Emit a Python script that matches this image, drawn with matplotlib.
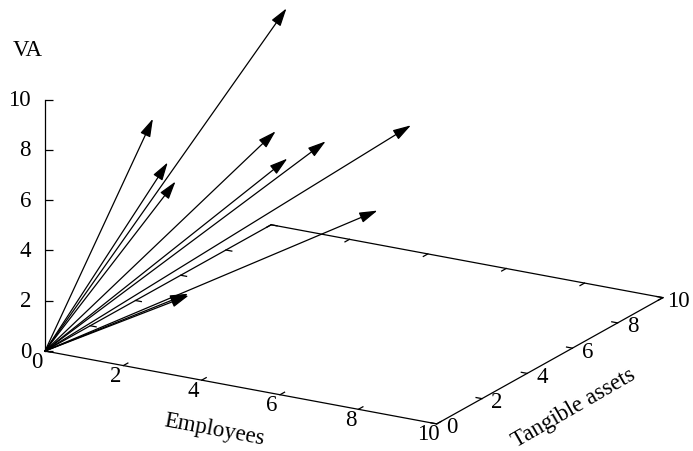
import numpy as np
import matplotlib
matplotlib.use('Agg')
import matplotlib.pyplot as plt
from mpl_toolkits.mplot3d import proj3d

plt.rcParams['font.family'] = ['Liberation Serif', 'DejaVu Serif']

# arrow end points (employees, tangible assets, VA), all arrows start at the origin
emp = [1.6, 2.7, 1.4, 1.6, 3.0, 3.3, 3.7, 5.3, 5.6, 2.5, 2.4]
assets = [2.0, 6.0, 3.0, 3.0, 5.0, 5.0, 6.0, 7.0, 5.0, 2.0, 2.2]
va = [8.7, 11.4, 6.4, 5.7, 7.1, 6.1, 6.4, 7.0, 4.7, 2.0, 1.8]

xticks = [0, 2, 4, 6, 8, 10]
yticks = [0, 2, 4, 6, 8, 10]
zticks = [0, 2, 4, 6, 8, 10]

W, H = 693, 451
FS = 16.5
ASPECT = (1, 1, 0.587)

fig = plt.figure(figsize=(W / 100, H / 100), dpi=100)
ax = fig.add_axes([0, 0, 1, 1], projection='3d', proj_type='ortho',
                  computed_zorder=False)
ax.view_init(elev=18.8, azim=-60)
ax.set_xlim(0, 10)
ax.set_ylim(0, 10)
ax.set_zlim(0, 10)
ax.set_axis_off()


def proj(x, y, z):
    xs, ys, _ = proj3d.proj_transform(np.atleast_1d(np.asarray(x, float)),
                                      np.atleast_1d(np.asarray(y, float)),
                                      np.atleast_1d(np.asarray(z, float)),
                                      ax.get_proj())
    return xs, ys


def to_px(x, y, z):
    xs, ys = proj(x, y, z)
    return ax.transData.transform(np.column_stack([xs, ys]))[0]


# fit the box: origin at (45, 351) px from top, x axis 10 units long on screen
zoom = 1.0
ax.set_box_aspect(ASPECT, zoom=zoom)
fig.canvas.draw()
d = np.hypot(*(to_px(10, 0, 0) - to_px(0, 0, 0)))
zoom *= np.hypot(391.7, 73.0) / d
ax.set_box_aspect(ASPECT, zoom=zoom)
fig.canvas.draw()
p0 = to_px(0, 0, 0)
ax.set_position([(45 - p0[0]) / W, ((H - 351) - p0[1]) / H, 1, 1])
fig.canvas.draw()

line_kw = dict(color='black', lw=0.9, clip_on=False)

# base of the box
ax.plot([0, 10, 10, 0, 0], [0, 0, 10, 10, 0], [0, 0, 0, 0, 0], **line_kw)
# z axis
ax.plot([0, 0], [0, 0], [0, 10], **line_kw)

# x ticks on front and back edges
for v in xticks:
    ax.plot([v, v], [0, 0.2], [0, 0], **line_kw)
    ax.plot([v, v], [10, 9.8], [0, 0], **line_kw)
# y ticks on right and left edges
for v in yticks:
    ax.plot([10, 9.85], [v, v], [0, 0], **line_kw)
    ax.plot([0, 0.15], [v, v], [0, 0], **line_kw)
# z ticks, pointing right on screen
ax.plot(np.zeros(len(zticks)), np.zeros(len(zticks)), zticks, ls='none',
        marker=1, ms=5.5, mew=0.9, color='black', clip_on=False)

# arrows
for x1, y1, z1 in zip(emp, assets, va):
    xs, ys = proj([0, x1], [0, y1], [0, z1])
    ax.annotate('', xy=(xs[1], ys[1]), xytext=(xs[0], ys[0]),
                annotation_clip=False,
                arrowprops=dict(arrowstyle='-|>,head_length=1.1,head_width=0.33',
                                color='black', lw=0.9, shrinkA=0, shrinkB=0,
                                mutation_scale=10))


def label(txt, pos, off, **kw):
    xs, ys = proj(*pos)
    ax.annotate(txt, (xs[0], ys[0]), xytext=off, textcoords='offset pixels',
                fontsize=FS, annotation_clip=False, **kw)


for v in xticks:
    label(str(v), (v, 0, 0), (-8, -11), ha='center', va='center')
for v in yticks:
    label(str(v), (10, v, 0), (15, -4), ha='center', va='center')
for v in zticks:
    label(str(v), (0, 0, v), (-14, -1), ha='right', va='center')

label('Employees', (5, 0, 0), (-27, -43), ha='center', va='center',
      rotation=-10.6, rotation_mode='anchor')
label('Tangible assets', (10, 5, 0), (24, -47), ha='center', va='center',
      rotation=30, rotation_mode='anchor')
label('VA', (0, 0, 10), (-17, 49), ha='center', va='center')

fig.savefig('out.png', dpi=100)
